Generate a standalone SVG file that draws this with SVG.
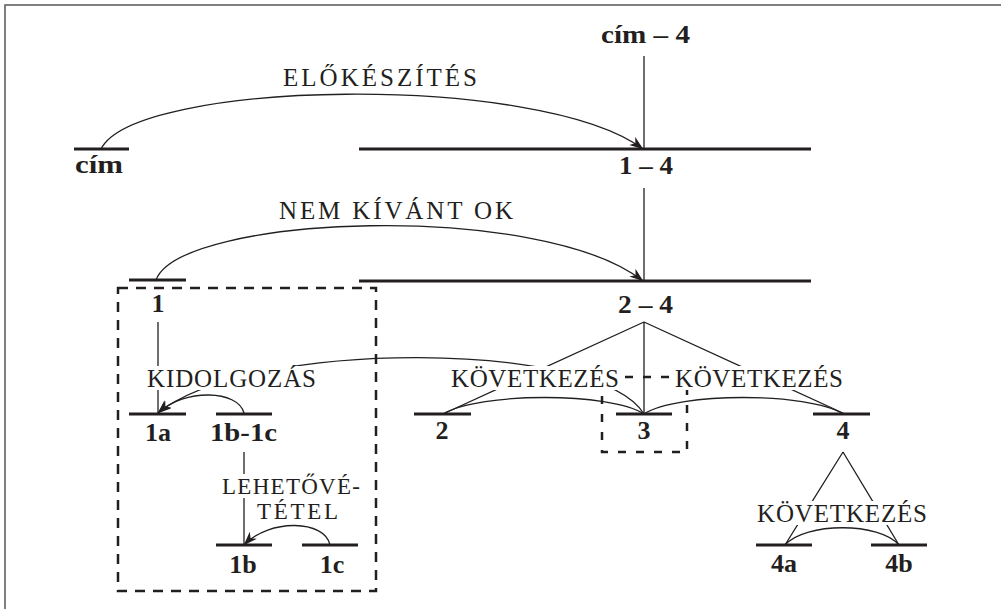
<svg xmlns="http://www.w3.org/2000/svg" width="1001" height="609" viewBox="0 0 1001 609">
<defs>
<marker id="arr" viewBox="0 0 14 10" refX="13.5" refY="5" markerWidth="14" markerHeight="10" markerUnits="userSpaceOnUse" orient="auto">
<path d="M0,0 L14,5 L0,10 L4,5 z" fill="#231f20"/>
</marker>
<style>
.bar{stroke:#231f20;stroke-width:3;fill:none}
.con{stroke:#231f20;stroke-width:1.3;fill:none}
.box{stroke:#231f20;stroke-width:2.5;fill:none;stroke-dasharray:10 8}
.b{font-family:"Liberation Serif","Times New Roman",serif;font-weight:bold;font-size:26px;fill:#231f20}
.r{font-family:"Liberation Serif","Times New Roman",serif;font-size:25px;fill:#231f20}
.s{font-size:23px}
.bg{fill:#fff}
.mid{text-anchor:middle}
</style>
</defs>
<rect x="5" y="5" width="1010" height="620" fill="#fff" stroke="#555" stroke-width="1.5"/>

<g id="boxes">
<rect class="box" x="118" y="288" width="258" height="303"/>
<rect class="box" x="602" y="377" width="85" height="75" style="stroke-dasharray:8 10;stroke-dashoffset:-5"/>
</g>

<g id="connectors">
<path class="con" d="M101,149 C135,80 540,72 643,149" marker-end="url(#arr)"/>
<path class="con" d="M644,56 V149"/>
<path class="con" d="M644,188 V281"/>
<path class="con" d="M156,280 C180,215 540,200 643,281" marker-end="url(#arr)"/>
<path class="con" d="M644,322 L443,414 M644,322 V414 M644,322 L845,414"/>
<path class="con" d="M443,414 C480,392 610,392 644,414"/>
<path class="con" d="M843,414 C808,392 678,392 644,414"/>
<path class="con" d="M644,414 C600,340 250,338 158,413" marker-end="url(#arr)"/>
<path class="con" d="M158,322 V413"/>
<path class="con" d="M244,413 C238,390 185,388 158,413" marker-end="url(#arr)"/>
<path class="con" d="M244,452 V545"/>
<path class="con" d="M330,545 C325,520 270,518 244,545" marker-end="url(#arr)"/>
<path class="con" d="M843,452 L785,545 M843,452 L899,545"/>
<path class="con" d="M785,545 C805,522 880,522 899,545"/>
</g>

<g id="connector-labels">
<g id="lbl-elokeszites"><text class="r" x="283" y="86" textLength="194" lengthAdjust="spacing">ELŐKÉSZÍTÉS</text></g>
<g id="lbl-nemkivant"><text class="r" x="279" y="219" textLength="234" lengthAdjust="spacing">NEM KÍVÁNT OK</text></g>
<g id="lbl-kidolgozas"><rect class="bg" x="146" y="366" width="171" height="24"/><text class="r" x="147" y="387" textLength="169" lengthAdjust="spacing">KIDOLGOZÁS</text></g>
<g id="lbl-kov1"><rect class="bg" x="450" y="366" width="170" height="24"/><text class="r" x="451" y="387" textLength="168" lengthAdjust="spacing">KÖVETKEZÉS</text></g>
<g id="lbl-kov2"><rect class="bg" x="674" y="366" width="170" height="24"/><text class="r" x="675" y="387" textLength="168" lengthAdjust="spacing">KÖVETKEZÉS</text></g>
<g id="lbl-lehetove"><rect class="bg" x="221" y="474" width="140" height="24"/><rect class="bg" x="256" y="498" width="83" height="23"/><text class="r s" x="222" y="494" textLength="138" lengthAdjust="spacing">LEHETŐVÉ-</text><text class="r s" x="257" y="519" textLength="81" lengthAdjust="spacing">TÉTEL</text></g>
<g id="lbl-kov3"><rect class="bg" x="756" y="501" width="172" height="24"/><text class="r" x="757" y="522" textLength="170" lengthAdjust="spacing">KÖVETKEZÉS</text></g>
</g>

<g id="node-cim"><line class="bar" x1="74" y1="149" x2="129" y2="149"/><text class="b" x="75" y="173" textLength="48" lengthAdjust="spacingAndGlyphs">cím</text></g>
<g id="node-cim-4"><text class="b" x="601" y="43" textLength="89" lengthAdjust="spacingAndGlyphs">cím – 4</text></g>
<g id="node-1-4"><line class="bar" x1="359" y1="149" x2="811" y2="149"/><text class="b" x="619" y="174" textLength="54" lengthAdjust="spacingAndGlyphs">1 – 4</text></g>
<g id="node-1"><line class="bar" x1="129" y1="280" x2="186" y2="280"/><text class="b mid" x="158" y="312">1</text></g>
<g id="node-2-4"><line class="bar" x1="359" y1="281" x2="811" y2="281"/><text class="b" x="618" y="313" textLength="55" lengthAdjust="spacingAndGlyphs">2 – 4</text></g>
<g id="node-1a"><line class="bar" x1="129" y1="414" x2="186" y2="414"/><text class="b mid" x="158" y="441">1a</text></g>
<g id="node-1b-1c"><line class="bar" x1="216" y1="414" x2="272" y2="414"/><text class="b" x="210" y="441" textLength="67" lengthAdjust="spacingAndGlyphs">1b-1c</text></g>
<g id="node-2"><line class="bar" x1="414" y1="414" x2="471" y2="414"/><text class="b mid" x="442" y="439">2</text></g>
<g id="node-3"><line class="bar" x1="616" y1="414" x2="672" y2="414"/><text class="b mid" x="644" y="439">3</text></g>
<g id="node-4"><line class="bar" x1="813" y1="414" x2="870" y2="414"/><text class="b mid" x="843" y="439">4</text></g>
<g id="node-1b"><line class="bar" x1="216" y1="545" x2="272" y2="545"/><text class="b mid" x="243" y="573">1b</text></g>
<g id="node-1c"><line class="bar" x1="302" y1="545" x2="358" y2="545"/><text class="b mid" x="332" y="573">1c</text></g>
<g id="node-4a"><line class="bar" x1="756" y1="545" x2="812" y2="545"/><text class="b mid" x="784" y="572">4a</text></g>
<g id="node-4b"><line class="bar" x1="871" y1="545" x2="927" y2="545"/><text class="b mid" x="899" y="572">4b</text></g>
</svg>
